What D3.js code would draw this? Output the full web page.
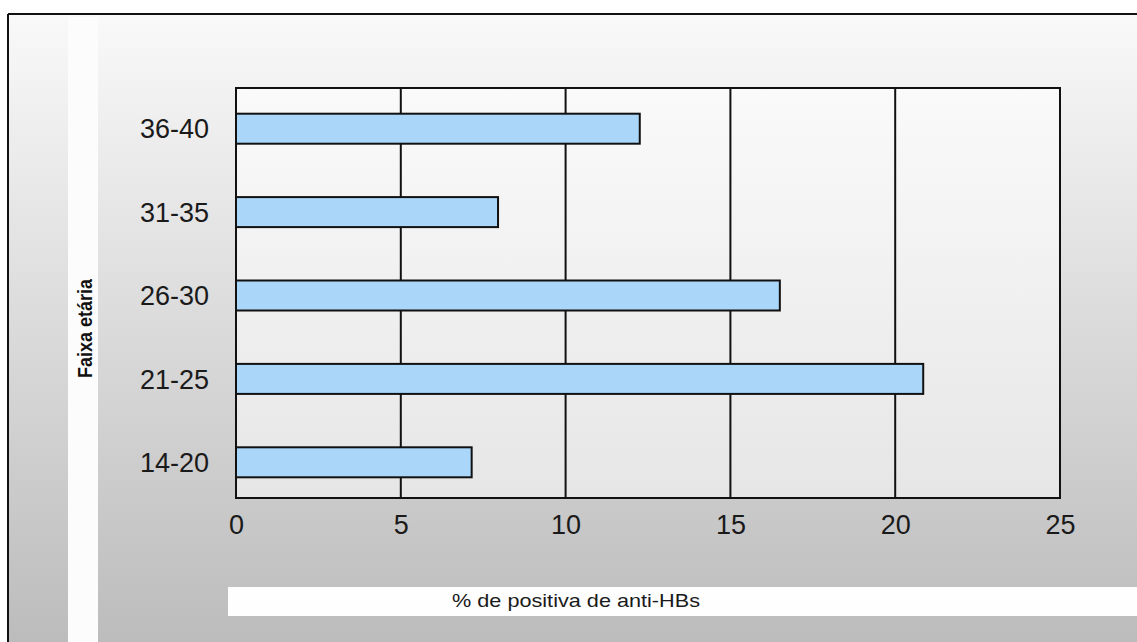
<!DOCTYPE html>
<html>
<head>
<meta charset="utf-8">
<script src="https://cdn.jsdelivr.net/npm/d3@7"></script>
<style>
  html, body { margin: 0; padding: 0; background: #ffffff; }
  svg { display: block; font-family: "Liberation Sans", Arial, sans-serif; }
</style>
</head>
<body>
<svg id="chart" width="1137" height="642"></svg>
<script>
// Data
const categories = ["36-40", "31-35", "26-30", "21-25", "14-20"];
const values = [12.25, 7.95, 16.5, 20.85, 7.15];
const xTicks = [0, 5, 10, 15, 20, 25];
const yTitle = "Faixa etária";
const xTitle = "% de positiva de anti-HBs";

const W = 1137, H = 642;
const svg = d3.select("#chart");
const defs = svg.append("defs");

const bgGrad = defs.append("linearGradient").attr("id", "bgGrad")
  .attr("x1", 0).attr("y1", 0).attr("x2", 0).attr("y2", 1);
bgGrad.append("stop").attr("offset", "0%").attr("stop-color", "#f9f9f9");
bgGrad.append("stop").attr("offset", "100%").attr("stop-color", "#bcbcbc");

const plotGrad = defs.append("linearGradient").attr("id", "plotGrad")
  .attr("x1", 0).attr("y1", 0).attr("x2", 0).attr("y2", 1);
plotGrad.append("stop").attr("offset", "0%").attr("stop-color", "#fafafa");
plotGrad.append("stop").attr("offset", "100%").attr("stop-color", "#e6e6e6");

// Outer background & border
svg.append("rect").attr("x", 8).attr("y", 14).attr("width", W - 8).attr("height", H - 14)
  .attr("fill", "url(#bgGrad)");
svg.append("line").attr("x1", 8).attr("x2", W).attr("y1", 14).attr("y2", 14)
  .attr("stroke", "#111").attr("stroke-width", 2);
svg.append("line").attr("x1", 8).attr("x2", 8).attr("y1", 14).attr("y2", H)
  .attr("stroke", "#111").attr("stroke-width", 2);

// Left white strip (axis title box)
svg.append("rect").attr("x", 68).attr("y", 17).attr("width", 30).attr("height", H - 17)
  .attr("fill", "#fcfcfc");
// Bottom white strip (x title box)
svg.append("rect").attr("x", 228).attr("y", 587).attr("width", W - 228).attr("height", 29)
  .attr("fill", "#fefefe");

const plot = { left: 236, right: 1060, top: 88, bottom: 498 };

const x = d3.scaleLinear().domain([0, 25]).range([plot.left, plot.right]);
const y = d3.scaleBand().domain(categories).range([87, 504]).padding(0);
const barH = 30;

// Plot background
svg.append("rect").attr("x", plot.left).attr("y", plot.top)
  .attr("width", plot.right - plot.left).attr("height", plot.bottom - plot.top)
  .attr("fill", "url(#plotGrad)");

// Grid lines
svg.append("g").selectAll("line").data(xTicks.slice(1, -1)).join("line")
  .attr("x1", d => x(d)).attr("x2", d => x(d))
  .attr("y1", plot.top).attr("y2", plot.bottom)
  .attr("stroke", "#111").attr("stroke-width", 2);

// Bars
svg.append("g").selectAll("rect").data(categories).join("rect")
  .attr("x", x(0))
  .attr("y", d => y(d) + y.bandwidth() / 2 - barH / 2)
  .attr("width", (d, i) => x(values[i]) - x(0))
  .attr("height", barH)
  .attr("fill", "#aad6fa")
  .attr("stroke", "#111").attr("stroke-width", 2);

// Frame
svg.append("rect").attr("x", plot.left).attr("y", plot.top)
  .attr("width", plot.right - plot.left).attr("height", plot.bottom - plot.top)
  .attr("fill", "none").attr("stroke", "#111").attr("stroke-width", 2);

// Y axis labels
const yAxis = d3.axisLeft(y).tickSize(0).tickPadding(27);
const yg = svg.append("g").attr("transform", `translate(${plot.left},0)`).call(yAxis);
yg.select(".domain").remove();
yg.selectAll("text").attr("font-size", 27).attr("fill", "#1a1a1a")
  .attr("font-family", "'Liberation Sans', Arial, sans-serif").attr("dy", "0.36em");

// X axis labels
const xAxis = d3.axisBottom(x).tickValues(xTicks).tickSize(0).tickPadding(17);
const xg = svg.append("g").attr("transform", `translate(0,${plot.bottom})`).call(xAxis);
xg.select(".domain").remove();
xg.selectAll("text").attr("font-size", 27).attr("fill", "#1a1a1a")
  .attr("font-family", "'Liberation Sans', Arial, sans-serif");

// Titles
svg.append("text")
  .attr("transform", "translate(92,328.5) rotate(-90)")
  .attr("text-anchor", "middle")
  .attr("font-size", 20).attr("font-weight", "bold").attr("fill", "#111")
  .attr("textLength", 99).attr("lengthAdjust", "spacingAndGlyphs")
  .text(yTitle);

svg.append("text")
  .attr("x", 576).attr("y", 607)
  .attr("text-anchor", "middle")
  .attr("font-size", 19).attr("fill", "#1a1a1a")
  .attr("textLength", 248).attr("lengthAdjust", "spacingAndGlyphs")
  .text(xTitle);
</script>
</body>
</html>
